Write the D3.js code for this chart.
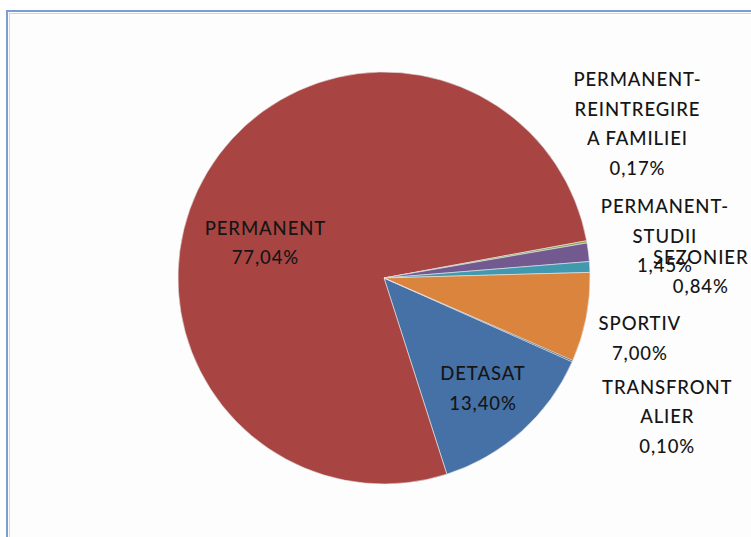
<!DOCTYPE html>
<html>
<head>
<meta charset="utf-8">
<script src="https://cdn.jsdelivr.net/npm/d3@7"></script>
<style>
  html, body { margin:0; padding:0; background:#fff; }
  svg { display:block; }
  text { font-family: Lato, "Open Sans", sans-serif; fill:#151515; }
</style>
</head>
<body>
<svg id="chart" width="751" height="537"></svg>
<script>
// slice order as in the sheet (clockwise)
var categories = ['DETASAT', 'PERMANENT', 'PERMANENT-REINTREGIRE A FAMILIEI', 'PERMANENT-STUDII', 'SEZONIER', 'SPORTIV', 'TRANSFRONTALIER'];
var shares = [13.40, 77.04, 0.17, 1.45, 0.84, 7.00, 0.10];
var labelLines = [
  ['DETASAT'],
  ['PERMANENT'],
  ['PERMANENT-', 'REINTREGIRE', 'A FAMILIEI'],
  ['PERMANENT-', 'STUDII'],
  ['SEZONIER'],
  ['SPORTIV'],
  ['TRANSFRONT', 'ALIER']
];
var colors = ['#4571a7', '#a84543', '#8aa64f', '#72598f', '#4199b0', '#db843e', '#2c4d75'];

var svg = d3.select('#chart');
var W = 751, H = 537;
var cx = 384, cy = 278, R = 206;
var lineH = 29.5;

// frame
svg.append('rect').attr('x', 7).attr('y', 11).attr('width', W).attr('height', H)
  .attr('fill', '#fdfdfd').attr('stroke', '#7b9dd2').attr('stroke-width', 2);
svg.append('rect').attr('x', 9.5).attr('y', 13.5).attr('width', W).attr('height', H)
  .attr('fill', 'none').attr('stroke', '#c9d8ef').attr('stroke-width', 1);

var data = categories.map(function(c, i) { return { name:c, value:shares[i], lines:labelLines[i], color:colors[i] }; });

var startA = 114 * Math.PI / 180;
var pie = d3.pie().sort(null).value(function(d) { return d.value; })
  .startAngle(startA).endAngle(startA + 2 * Math.PI);
var arcs = pie(data);
var arc = d3.arc().innerRadius(0).outerRadius(R);

var g = svg.append('g').attr('transform', 'translate(' + cx + ',' + cy + ')');
g.selectAll('path.slice').data(arcs).enter().append('path')
  .attr('class', 'slice')
  .attr('d', arc)
  .attr('fill', function(d) { return d.data.color; })
  .attr('stroke', '#e8e8e8').attr('stroke-width', 0.6);

// label anchors: radius factor along the slice mid angle + nudge (px)
var labelLayout = {
  'DETASAT': { r:0.72, dx:0, dy:0 },
  'PERMANENT': { r:0.6, dx:0, dy:0 },
  'PERMANENT-REINTREGIRE A FAMILIEI': { r:1.25, dx:0, dy:-109 },
  'PERMANENT-STUDII': { r:1.35, dx:5, dy:-7 },
  'SEZONIER': { r:1.54, dx:0, dy:11 },
  'SPORTIV': { r:1.3, dx:-7, dy:9 },
  'TRANSFRONTALIER': { r:1.45, dx:10, dy:18 }
};

function fmt(v) { return v.toFixed(2).replace('.', ',') + '%'; }

arcs.forEach(function(a) {
  var L = labelLayout[a.data.name];
  var mid = (a.startAngle + a.endAngle) / 2;
  if (a.data.name === 'PERMANENT') mid = 286.4 * Math.PI / 180;
  var rr = R * L.r;
  var x = Math.sin(mid) * rr + L.dx;
  var y = -Math.cos(mid) * rr + L.dy;
  var lines = a.data.lines.concat([fmt(a.data.value)]);
  var t = g.append('text').attr('text-anchor', 'middle').attr('font-size', 18.5)
    .attr('font-weight', 500).attr('letter-spacing', 0.9);
  lines.forEach(function(s, k) {
    t.append('tspan').attr('x', x).attr('y', y + (k - (lines.length - 1) / 2) * lineH + 6.5).text(s);
  });
});
</script>
</body>
</html>
